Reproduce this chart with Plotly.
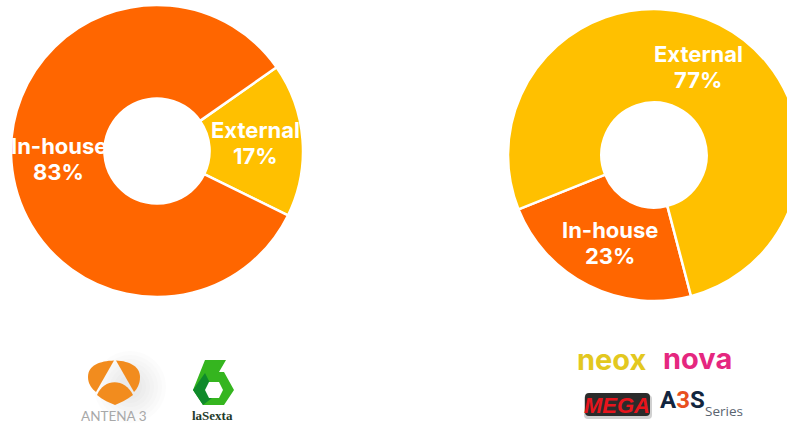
import math
import plotly.graph_objects as go

# Production split per channel group
left_labels = ["External", "In-house"]
left_values = [17, 83]
left_colors = ["#FFC000", "#FF6600"]
right_labels = ["In-house", "External"]
right_values = [23, 77]
right_colors = ["#FF6600", "#FFC000"]

CANVAS_W = 830
CANVAS_H = 424
FONT = "Inter, 'Open Sans', sans-serif"
HOLE = 0.36


def px(x):
    return x / CANVAS_W


def py(y):
    return 1 - y / CANVAS_H


def poly(points, fill):
    path = "M " + " L ".join(f"{px(x):.5f},{py(y):.5f}" for x, y in points) + " Z"
    return dict(type="path", xref="paper", yref="paper", path=path,
                fillcolor=fill, line=dict(width=0))


def curve(commands, fill, line=None):
    # commands: list of (letter, [x0, y0, x1, y1, ...]) in canvas pixels
    parts = []
    for letter, coords in commands:
        pairs = [f"{px(coords[i]):.5f},{py(coords[i + 1]):.5f}" for i in range(0, len(coords), 2)]
        parts.append(letter + " " + " ".join(pairs))
    return dict(type="path", xref="paper", yref="paper", path=" ".join(parts) + " Z",
                fillcolor=fill, line=line or dict(width=0))


def rounded(x0, y0, x1, y1, r, fill):
    return curve([("M", [x0 + r, y0]), ("L", [x1 - r, y0]), ("Q", [x1, y0, x1, y0 + r]),
                  ("L", [x1, y1 - r]), ("Q", [x1, y1, x1 - r, y1]), ("L", [x0 + r, y1]),
                  ("Q", [x0, y1, x0, y1 - r]), ("L", [x0, y0 + r]), ("Q", [x0, y0, x0 + r, y0])], fill)


def label(x, y, text, size, color, family=FONT, **kw):
    return dict(xref="paper", yref="paper", x=px(x), y=py(y), text=text, showarrow=False,
                xanchor="center", yanchor="middle",
                font=dict(size=size, color=color, family=family), **kw)


def donut(labels, values, colors, rotation, x0, x1, y0, y1):
    return go.Pie(
        labels=labels, values=values, sort=False, direction="clockwise",
        rotation=rotation, hole=HOLE,
        domain=dict(x=[px(x0), px(x1)], y=[py(y1), py(y0)]),
        marker=dict(colors=colors, line=dict(color="white", width=2.5)),
        textinfo="none", hoverinfo="label+percent", showlegend=False,
    )


def slice_labels(labels, values, rotation, cx, cy, radius):
    # Two-line captions centred on each slice's mid-angle, halfway across the ring
    notes = []
    total = sum(values)
    start = rotation
    ring = radius * (1 + HOLE) / 2
    for name, value in zip(labels, values):
        sweep = 360 * value / total
        mid = math.radians(start + sweep / 2)
        x = cx + ring * math.sin(mid)
        y = cy - ring * math.cos(mid)
        notes.append(label(x, y - 13, f"<b>{name}</b>", 22, "white"))
        notes.append(label(x, y + 13, f"<b>{value}%</b>", 22, "white"))
        start += sweep
    return notes


LEFT_ROT = 55
RIGHT_ROT = 165.3

fig = go.Figure()
fig.add_trace(donut(left_labels, left_values, left_colors, LEFT_ROT, 11, 303, 5, 297))
fig.add_trace(donut(right_labels, right_values, right_colors, RIGHT_ROT, 508, 800, 9, 301))

shapes = []
# Antena 3 emblem with its soft shadow
for r in range(36, 8, -4):
    shapes.append(dict(type="circle", xref="paper", yref="paper",
                       x0=px(130 - r), x1=px(130 + r), y0=py(387 + r), y1=py(387 - r),
                       fillcolor="rgba(110,110,110,0.022)", line=dict(width=0)))
shapes.append(curve([("M", [114, 360.5]), ("C", [100, 361, 88, 365, 88, 377]),
                     ("C", [88, 384, 92, 389, 96, 392])], "#F28C1E"))
shapes.append(curve([("M", [116, 360.5]), ("C", [130, 361, 140, 367, 140, 377]),
                     ("C", [140, 384, 137, 389, 134, 392])], "#F28C1E"))
shapes.append(curve([("M", [97, 395]), ("C", [104, 378, 125, 378, 133, 395]),
                     ("C", [126, 400, 120, 403, 115, 405]), ("C", [110, 403, 103, 400, 97, 395])],
                    "#F28C1E"))
# laSexta hexagon
shapes.append(poly([(205, 360), (226, 360), (219, 372), (224, 372), (234, 390),
                    (224, 405), (203, 405), (193, 390)], "#35B51F"))
shapes.append(poly([(193, 390), (205, 373), (210, 383), (206, 390), (212, 398), (203, 405)], "#0F8A2B"))
shapes.append(poly([(209, 382), (219, 382), (223, 390), (219, 398), (209, 398), (205, 390)], "white"))
# MEGA badge
shapes.append(rounded(584, 395, 652, 419, 4, "rgba(120,120,120,0.35)"))
shapes.append(rounded(585, 393, 650, 416, 4, "#2B2B2B"))

annotations = (
    slice_labels(left_labels, left_values, LEFT_ROT, 157, 151, 145)
    + slice_labels(right_labels, right_values, RIGHT_ROT, 654, 155, 145)
    + [
        label(114, 416, "ANTENA 3", 13.5, "#A8A8A8", family="Lato, sans-serif"),
        label(213, 415, "<b>laSexta</b>", 13, "#1F3B2A", family="'Liberation Serif', serif"),
        label(612, 359, "<b>neox</b>", 29, "#E3C81F"),
        label(697, 358, "<b>nova</b>", 29, "#E5277F"),
        label(617, 405, "<b><i>MEGA</i></b>", 22, "#E8141C", family="'Liberation Sans', sans-serif"),
        label(682, 400, '<b><span style="color:#12263F">A</span><span style="color:#E8501E">3</span>'
                        '<span style="color:#12263F">S</span></b>', 24, "#12263F",
              family="Roboto, sans-serif"),
        label(724, 411, "Series", 13.5, "#5A6470", family="'Open Sans', sans-serif"),
    ]
)

fig.update_layout(
    width=CANVAS_W, height=CANVAS_H, margin=dict(l=0, r=0, t=0, b=0),
    paper_bgcolor="white", plot_bgcolor="white",
    shapes=shapes, annotations=annotations,
)

fig.write_html("out.html", post_script="document.documentElement.style.overflow='hidden';document.body.style.overflow='hidden';")
